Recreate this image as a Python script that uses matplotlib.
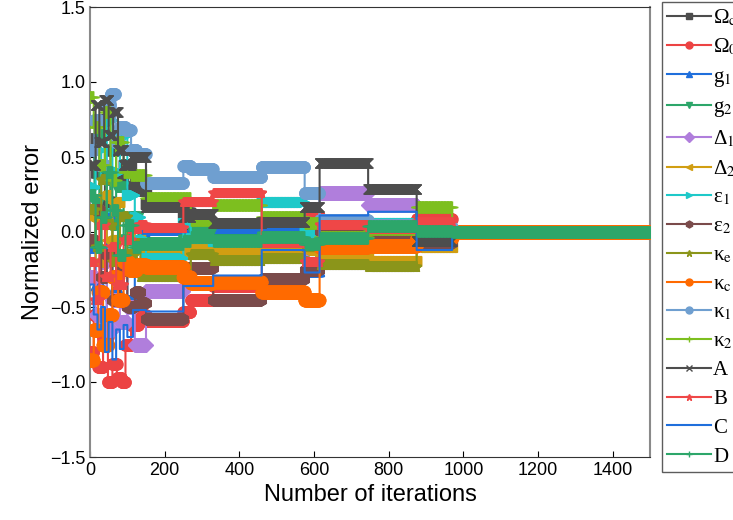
import numpy as np
import matplotlib
matplotlib.use('Agg')
from matplotlib import pyplot as plt
from matplotlib import font_manager

n_iter = 1500

# step break points shared by every parameter after the first 150 iterations
late_x = [150, 250, 270, 330, 460, 575, 615, 745, 875, 970]

# early (noisy) part of each parameter: iteration where a new value starts + value
omega_c_x = [0, 12, 25, 40, 55, 70, 90, 110, 130]
omega_c_y = [0.62, 0.40, 0.75, 0.20, 0.55, 0.35, 0.45, 0.30, 0.28]
omega_c_late = [0.19, 0.13, 0.04, -0.02, -0.02, -0.02, 0.00, 0.03, -0.01, 0.0]

omega_0_x = [0, 10, 22, 35, 48, 60, 72, 85, 95, 110, 130]
omega_0_y = [-0.80, -0.55, -0.90, -0.70, -1.00, -0.88, -0.97, -1.00, -0.75, -0.62, -0.55]
omega_0_late = [-0.59, -0.53, -0.45, -0.36, -0.05, 0.11, -0.12, 0.01, 0.09, 0.0]

g1_x = [0, 15, 30, 45, 60, 80, 100, 120, 135]
g1_y = [-0.10, -0.35, -0.55, 0.10, -0.40, -0.20, -0.45, 0.05, -0.02]
g1_late = [0.02, -0.02, -0.10, 0.03, 0.01, -0.26, 0.00, 0.05, -0.02, 0.0]

g2_x = [0, 12, 25, 40, 55, 70, 90, 110, 130]
g2_y = [0.55, 0.20, 0.65, 0.35, 0.05, 0.30, -0.05, 0.10, -0.10]
g2_late = [-0.07, -0.05, 0.02, -0.05, -0.03, 0.00, -0.04, -0.02, 0.01, 0.0]

delta1_x = [0, 15, 30, 45, 60, 80, 100, 120, 135]
delta1_y = [-0.30, -0.55, -0.20, -0.65, -0.45, -0.60, -0.50, -0.75, -0.75]
delta1_late = [-0.39, -0.26, -0.08, -0.11, -0.14, -0.07, 0.26, 0.18, -0.03, 0.0]

delta2_x = [0, 15, 30, 45, 60, 80, 100, 120, 135]
delta2_y = [0.10, -0.20, 0.25, -0.05, 0.20, -0.15, 0.05, -0.05, -0.12]
delta2_late = [-0.11, -0.14, -0.09, -0.13, -0.10, -0.12, -0.16, -0.19, -0.10, 0.0]

eps1_x = [0, 15, 30, 45, 60, 80, 100, 120, 135]
eps1_y = [0.30, 0.55, 0.15, 0.75, 0.40, 0.65, 0.25, 0.10, -0.05]
eps1_late = [-0.17, 0.06, -0.04, -0.06, 0.20, 0.00, -0.07, 0.06, 0.00, 0.0]

eps2_x = [0, 15, 30, 45, 60, 80, 100, 120, 135]
eps2_y = [-0.05, 0.15, -0.30, -0.15, -0.45, -0.25, -0.50, -0.40, -0.47]
eps2_late = [-0.58, -0.24, -0.24, -0.45, -0.31, -0.25, 0.01, -0.02, -0.07, 0.0]

kappa_e_x = [0, 15, 30, 45, 60, 80, 100, 120, 135]
kappa_e_y = [0.15, -0.10, 0.35, 0.05, -0.20, 0.10, -0.15, -0.08, -0.30]
kappa_e_late = [-0.30, -0.30, -0.15, -0.19, -0.18, -0.10, -0.22, -0.23, -0.05, 0.0]

kappa_c_x = [0, 10, 22, 35, 48, 60, 75, 90, 105, 125]
kappa_c_y = [-0.85, -0.65, -0.40, -0.75, -0.55, -0.30, -0.45, -0.20, -0.25, -0.22]
kappa_c_late = [-0.23, -0.30, -0.34, -0.33, -0.40, -0.45, -0.10, -0.09, -0.04, 0.0]

kappa_1_x = [0, 12, 25, 40, 55, 68, 80, 95, 110, 125]
kappa_1_y = [0.55, 0.75, 0.45, 0.85, 0.92, 0.60, 0.70, 0.68, 0.55, 0.52]
kappa_1_late = [0.33, 0.44, 0.42, 0.37, 0.435, 0.26, 0.08, 0.05, 0.035, 0.0]

kappa_2_x = [0, 10, 25, 40, 55, 70, 90, 110, 130]
kappa_2_y = [0.90, 0.70, 0.45, 0.80, 0.35, 0.60, 0.40, 0.38, 0.38]
kappa_2_late = [0.23, 0.23, 0.08, 0.18, 0.10, 0.06, -0.03, 0.02, 0.17, 0.0]

a_x = [0, 15, 25, 38, 50, 62, 75, 90, 110, 125]
a_y = [0.45, 0.85, 0.60, 0.88, 0.65, 0.80, 0.55, 0.45, 0.50, 0.50]
a_late = [0.17, 0.10, 0.12, 0.06, 0.07, 0.17, 0.46, 0.29, -0.06, 0.0]

b_x = [0, 12, 25, 40, 55, 70, 90, 110, 130]
b_y = [-0.20, -0.45, 0.05, -0.30, -0.10, -0.35, -0.05, 0.02, 0.05]
b_late = [0.03, 0.20, 0.20, 0.26, -0.07, -0.20, 0.05, 0.02, 0.07, 0.0]

c_x = [0, 10, 20, 30, 40, 50, 60, 70, 80, 90, 100, 115, 130]
c_y = [-0.35, -0.55, -0.65, -0.50, -0.80, -0.60, -0.85, -0.65, -0.78, -0.62, -0.70, -0.52, -0.52]
c_late = [-0.53, -0.36, -0.36, -0.29, -0.12, -0.27, 0.11, 0.135, -0.12, 0.0]

d_x = [0, 15, 30, 45, 60, 75, 95, 115, 135]
d_y = [0.25, -0.10, 0.10, 0.40, 0.15, -0.15, 0.05, -0.10, -0.08]
d_late = [-0.08, -0.06, -0.03, -0.06, -0.03, -0.08, -0.04, 0.04, 0.01, 0.0]

labels = ['Ω$_\\mathrm{c}$', 'Ω$_\\mathrm{0}$', 'g$_\\mathrm{1}$', 'g$_\\mathrm{2}$',
          'Δ$_\\mathrm{1}$', 'Δ$_\\mathrm{2}$', 'ε$_\\mathrm{1}$', 'ε$_\\mathrm{2}$',
          'κ$_\\mathrm{e}$', 'κ$_\\mathrm{c}$', 'κ$_\\mathrm{1}$', 'κ$_\\mathrm{2}$',
          'A', 'B', 'C', 'D']

breaks = [omega_c_x, omega_0_x, g1_x, g2_x, delta1_x, delta2_x, eps1_x, eps2_x,
          kappa_e_x, kappa_c_x, kappa_1_x, kappa_2_x, a_x, b_x, c_x, d_x]
early = [omega_c_y, omega_0_y, g1_y, g2_y, delta1_y, delta2_y, eps1_y, eps2_y,
         kappa_e_y, kappa_c_y, kappa_1_y, kappa_2_y, a_y, b_y, c_y, d_y]
late = [omega_c_late, omega_0_late, g1_late, g2_late, delta1_late, delta2_late,
        eps1_late, eps2_late, kappa_e_late, kappa_c_late, kappa_1_late,
        kappa_2_late, a_late, b_late, c_late, d_late]

colors = ['#4d4d4d', '#ec4343', '#1f6fdc', '#2da66a', '#b07edc', '#d19e12',
          '#1ec9c9', '#7a4b4b', '#8b951a', '#ff6a00', '#6f9fd0', '#7dbf1f',
          '#4d4d4d', '#ef4747', '#1f6fdc', '#2da66a']
markers = ['s', 'o', '^', 'v', 'D', '<', '>', 'h', '*', 'o', 'o', '+',
           'x', '*', '', '+']
msizes = [7, 8, 7, 7, 7, 7, 7, 8, 8, 9, 8, 8, 7, 7, 0, 8]


def steps(xs, ys):
    # hold each value until the next break point
    dur = np.diff(xs + [n_iter + 1])
    return np.repeat(ys, dur)


avail = {f.name for f in font_manager.fontManager.ttflist}
tick_font = 'Liberation Sans Narrow' if 'Liberation Sans Narrow' in avail else 'Liberation Sans'
plt.rcParams['font.family'] = [tick_font, 'DejaVu Sans']
plt.rcParams['mathtext.fontset'] = 'stix'

fig = plt.figure(figsize=(7.33, 5.2), dpi=100)
ax = fig.add_axes([90 / 733, 63 / 520, 560 / 733, 450 / 520])

it = np.arange(n_iter + 1)
handles = []
for i in range(len(labels)):
    y = steps(breaks[i] + late_x, early[i] + late[i])
    ax.plot(it, y, color=colors[i], lw=1.5, marker=markers[i] or None,
            ms=msizes[i], drawstyle='steps-post', zorder=2 + i)
    h, = ax.plot([], [], color=colors[i], lw=1.5, marker=markers[i] or None,
                 ms=5)
    handles.append(h)

ax.set_xlim(0, 1500)
ax.set_ylim(-1.5, 1.5)
ax.set_xticks(np.arange(0, 1401, 200))
ax.set_yticks([-1.5, -1.0, -0.5, 0.0, 0.5, 1.0, 1.5])
ax.tick_params(direction='in', length=4, labelsize=13)
ax.set_xlabel('Number of iterations', fontsize=17)
ax.set_ylabel('Normalized error', fontsize=17)
for side in ['left', 'right']:
    ax.spines[side].set_color('#8a8a8a')
    ax.spines[side].set_linewidth(1.5)
for side in ['top', 'bottom']:
    ax.spines[side].set_color('#333333')

leg = fig.legend(handles, labels, loc='upper left', bbox_to_anchor=(662 / 733, 518 / 520),
                 frameon=True, fancybox=False, edgecolor='#333333',
                 prop={'family': 'Liberation Serif', 'size': 15},
                 handlelength=2.1, labelspacing=0.44, borderpad=0.25,
                 handletextpad=0.1, borderaxespad=0)
leg.get_frame().set_linewidth(1.0)

plt.savefig('out.png', dpi=100)
